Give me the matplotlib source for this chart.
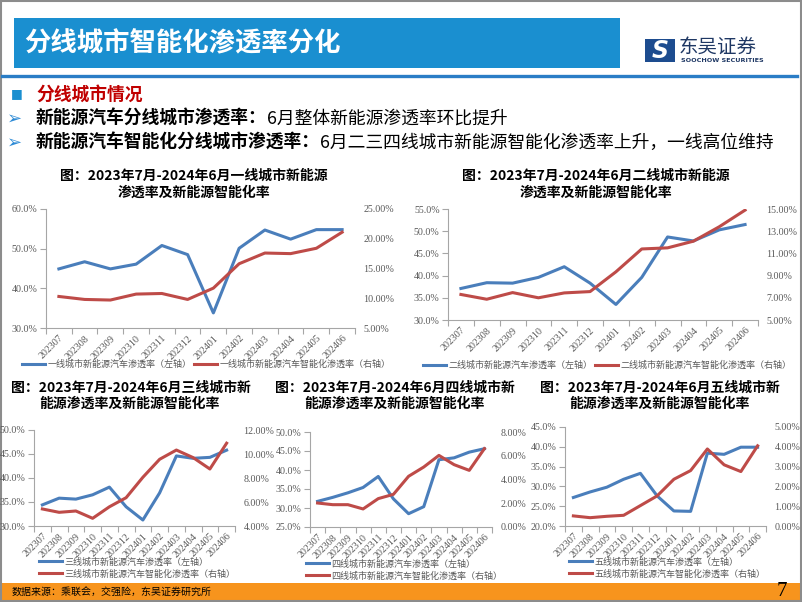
import matplotlib
matplotlib.use("Agg")
import matplotlib.pyplot as plt
from matplotlib.patches import Rectangle
from matplotlib.lines import Line2D
from matplotlib.ticker import FixedLocator, FuncFormatter

W, H = 802, 602
plt.rcParams['font.family'] = ['Noto Sans CJK SC', 'DejaVu Sans']
SERIF = 'Liberation Serif'

# 数据（单位：%）
months = ['202307', '202308', '202309', '202310', '202311', '202312',
          '202401', '202402', '202403', '202404', '202405', '202406']

tier1_nev = [44.9, 46.7, 44.9, 46.1, 50.8, 48.5, 33.8, 50.1, 54.7, 52.4, 54.8, 54.8]
tier1_smart = [10.3, 9.8, 9.7, 10.7, 10.8, 9.8, 11.7, 15.8, 17.6, 17.5, 18.4, 21.1]

tier2_nev = [37.1, 38.4, 38.3, 39.6, 42.0, 38.3, 33.5, 39.6, 48.7, 47.8, 50.3, 51.5]
tier2_smart = [7.3, 6.87, 7.47, 7.0, 7.44, 7.56, 9.34, 11.4, 11.5, 12.1, 13.4, 14.9]

tier3_nev = [34.4, 35.8, 35.6, 36.5, 38.1, 34.0, 31.25, 36.9, 44.6, 44.1, 44.3, 45.8]
tier3_smart = [5.42, 5.14, 5.25, 4.64, 5.6, 6.36, 8.06, 9.56, 10.33, 9.7, 8.75, 10.9]

tier4_nev = [31.75, 32.8, 34.0, 35.4, 38.3, 32.4, 28.5, 30.35, 42.7, 43.2, 44.7, 45.6]
tier4_smart = [2.02, 1.88, 1.88, 1.52, 2.39, 2.75, 4.27, 5.05, 6.03, 5.25, 4.77, 6.6]

tier5_nev = [27.2, 28.6, 29.8, 31.8, 33.3, 27.6, 23.8, 23.7, 38.4, 38.1, 39.9, 39.9]
tier5_smart = [0.51, 0.42, 0.49, 0.54, 1.03, 1.52, 2.36, 2.80, 3.89, 3.09, 2.75, 4.05]

BLUE = '#4A7EBB'
RED = '#BE4B48'
GREY = '#595959'
AXIS = '#A6A6A6'

fig = plt.figure(figsize=(W / 100, H / 100), dpi=100)
bg = fig.add_axes([0, 0, 1, 1], zorder=0)
bg.set_xlim(0, W)
bg.set_ylim(H, 0)
bg.axis('off')


def box(x0, y0, x1, y1):
    return [x0 / W, 1 - y1 / H, (x1 - x0) / W, (y1 - y0) / H]


# 页眉
bg.add_patch(Rectangle((14, 18), 606, 50, color='#1A8FD0', lw=0))
bg.text(24, 44, '分线城市智能化渗透率分化', color='white', fontsize=19,
        fontweight='bold', va='center')
bg.plot([2, 797], [75.5, 75.5], color='#2A7DC6', lw=2.4)
bg.add_patch(Rectangle((645, 39), 30, 23, color='#1D4C8F', lw=0))
bg.text(660, 51, 'S', color='white', fontsize=17, fontweight='bold',
        fontstyle='italic', family='DejaVu Sans', ha='center', va='center')
bg.text(679, 47, '东吴证券', color='#1F3864', fontsize=14, va='center')
bg.text(681, 61, 'SOOCHOW SECURITIES', color='#1F3864', fontsize=4.6,
        fontweight='bold', family='DejaVu Sans', va='center')

# 要点
bg.text(11, 94, '■', color='#1A8FD0', fontsize=9, family='DejaVu Sans', va='center')
bg.text(36, 95, '分线城市情况', color='#C00000', fontsize=12.8,
        fontweight='bold', va='center')
lines = [('新能源汽车分线城市渗透率：', '6月整体新能源渗透率环比提升', 119),
         ('新能源汽车智能化分线城市渗透率：', '6月二三四线城市新能源智能化渗透率上升，一线高位维持', 143)]
for bold, rest, y in lines:
    bg.text(7, y, '➢', color='#2E8BD6', fontsize=13, family='DejaVu Sans', va='center')
    t = bg.text(36, y, bold, color='black', fontsize=12.8, fontweight='bold', va='center')
    bg.annotate(rest, xy=(1, 0.5), xycoords=t, color='black', fontsize=12.8,
                va='center', ha='left')


def pct(dec):
    return FuncFormatter(lambda v, p: f'{v:.{dec}f}%')


def chart(rect, titles, nev, smart, lticks, rticks, name, legend):
    ax = fig.add_axes(box(*rect), zorder=2)
    ax.patch.set_alpha(0)
    x = range(len(months))
    ax.plot(x, nev, color=BLUE, lw=2.2, solid_joinstyle='round')
    ax2 = ax.twinx()
    ax2.plot(x, smart, color=RED, lw=2.2, solid_joinstyle='round')

    ax.set_xlim(-0.5, len(months) - 0.5)
    ax.set_ylim(lticks[0], lticks[-1])
    ax2.set_ylim(rticks[0], rticks[-1])
    ax.yaxis.set_major_locator(FixedLocator(lticks))
    ax2.yaxis.set_major_locator(FixedLocator(rticks))
    ax.yaxis.set_major_formatter(pct(1))
    ax2.yaxis.set_major_formatter(pct(2))

    ax.set_xticks(list(x))
    ax.set_xticklabels(months, rotation=45, ha='right', rotation_mode='anchor',
                       family=SERIF, fontsize=7.2, color=GREY)
    ax.set_xticks([i - 0.5 for i in range(len(months) + 1)], minor=True)
    ax.tick_params(axis='x', which='major', length=0, pad=4)
    ax.tick_params(axis='x', which='minor', length=4, color=AXIS, width=0.8)
    ax.tick_params(axis='y', length=4, color=AXIS, width=0.8, pad=2,
                   labelsize=7.2, labelcolor=GREY)
    ax2.tick_params(axis='y', length=0, pad=6, labelsize=7.2, labelcolor=GREY)
    for lab in ax.get_yticklabels() + ax2.get_yticklabels():
        lab.set_family(SERIF)

    for s in ['top', 'right']:
        ax.spines[s].set_visible(False)
    for s in ['left', 'bottom']:
        ax.spines[s].set_color(AXIS)
        ax.spines[s].set_linewidth(0.8)
    for s in ax2.spines.values():
        s.set_visible(False)

    for (tx, ty, txt) in titles:
        bg.text(tx, ty, txt, ha='center', va='center', fontsize=10,
                fontweight='bold', color='black')

    handles = [Line2D([], [], color=BLUE, lw=2.2), Line2D([], [], color=RED, lw=2.2)]
    labels = [name + '新能源汽车渗透率（左轴）', name + '新能源汽车智能化渗透率（右轴）']
    lx, ly, ncol = legend
    fig.legend(handles, labels, loc='center left', bbox_to_anchor=(lx / W, 1 - ly / H),
               ncol=ncol, frameon=False, fontsize=6.5, labelcolor=GREY,
               handlelength=2.6, handletextpad=0.2, columnspacing=0.3,
               labelspacing=0.3, borderpad=0, borderaxespad=0)


chart((46, 209, 355, 328),
      [(194, 176, '图：2023年7月-2024年6月一线城市新能源'), (194, 193, '渗透率及新能源智能化率')],
      tier1_nev, tier1_smart, [30, 40, 50, 60], [5, 10, 15, 20, 25],
      '一线城市', (22, 364, 2))
chart((448, 209, 758, 320),
      [(596, 176, '图：2023年7月-2024年6月二线城市新能源'), (596, 193, '渗透率及新能源智能化率')],
      tier2_nev, tier2_smart, [30, 35, 40, 45, 50, 55], [5, 7, 9, 11, 13, 15],
      '二线城市', (423, 365, 2))
chart((34, 430, 235, 526),
      [(131, 388, '图：2023年7月-2024年6月三线城市新'), (130, 404, '能源渗透率及新能源智能化率')],
      tier3_nev, tier3_smart, [30, 35, 40, 45, 50], [4, 6, 8, 10, 12],
      '三线城市', (39, 568, 1))
chart((310, 432, 492, 527),
      [(395, 388, '图：2023年7月-2024年6月四线城市新'), (395, 404, '能源渗透率及新能源智能化率')],
      tier4_nev, tier4_smart, [25, 30, 35, 40, 45, 50], [0, 2, 4, 6, 8],
      '四线城市', (306, 570, 1))
chart((565, 427, 766, 526),
      [(660, 388, '图：2023年7月-2024年6月五线城市新'), (660, 404, '能源渗透率及新能源智能化率')],
      tier5_nev, tier5_smart, [20, 25, 30, 35, 40, 45], [0, 1, 2, 3, 4, 5],
      '五线城市', (569, 568, 1))

# 页脚
bg.add_patch(Rectangle((2, 583), 798, 17, color='#F7941D', lw=0))
bg.text(12, 591.5, '数据来源：乘联会，交强险，东吴证券研究所', fontsize=7.2,
        color='black', va='center')
bg.text(777, 591, '7', fontsize=15, family=SERIF, color='black', va='center')
bg.add_patch(Rectangle((0.8, 0.8), W - 1.6, H - 1.6, fill=False,
                       edgecolor='#8C8C8C', lw=1.5))

fig.savefig('out.png', dpi=100)
